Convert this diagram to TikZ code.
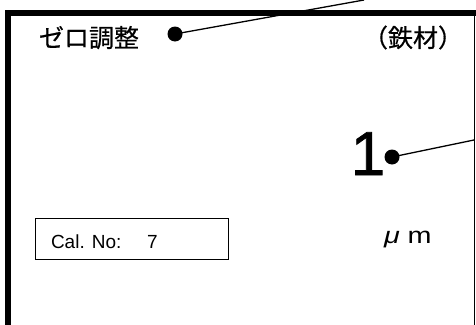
\documentclass[tikz,border=0pt]{standalone}
\usepackage{fontspec}
\setmainfont{Liberation Sans}
\newfontfamily\jpfont[FakeBold=0.6]{Noto Sans CJK JP}
\newfontfamily\numfont[FakeBold=1.2]{Liberation Sans}
\begin{document}
\begin{tikzpicture}[x=1pt,y=-1pt,
  txt/.style={inner sep=0pt, outer sep=0pt},
  blob/.style={circle, fill=black, minimum size=15pt, inner sep=0pt},
  lead/.style={line width=1.3pt},
  frame/.style={line width=6pt}]
\useasboundingbox (0,0) rectangle (476,324);
% frame
\draw[frame] (8,330) -- (8,13) -- (480,13);
\draw[line width=1.5pt] (474.5,13) -- (474.5,330);
% title
\node[txt, anchor=base west] (title) at (39,47) {\fontsize{25}{25}\selectfont\jpfont ゼロ調整};
\node[txt, anchor=base east] (mat) at (463,47) {\fontsize{25}{25}\selectfont\jpfont （鉄材）};
\node[blob] (d1) at (175,34) {};
\coordinate (e1) at (364,0);
\draw[lead] (d1.center) -- (e1);
% value
\node[txt, anchor=base] (val) at (368,175) {\fontsize{62}{62}\selectfont\numfont 1};
\node[blob] (d2) at (392,157) {};
\coordinate (e2) at (474,140);
\draw[lead] (d2.center) -- (e2);
% unit
\node[txt, anchor=base west] (unit) at (384,243) {\scalebox{1.25}[1]{\fontsize{23}{23}\selectfont\itshape μ\upshape\ m}};
% cal box
\node[draw, line width=1pt, minimum width=193pt, minimum height=41pt, inner sep=0pt, anchor=north west] (cal) at (35,218) {};
\node[txt, anchor=base west] (calt) at (51,248) {\fontsize{19}{19}\selectfont Cal. No:};
\node[txt, anchor=base west] (caln) at (147,248) {\fontsize{19}{19}\selectfont 7};
\end{tikzpicture}
\end{document}
